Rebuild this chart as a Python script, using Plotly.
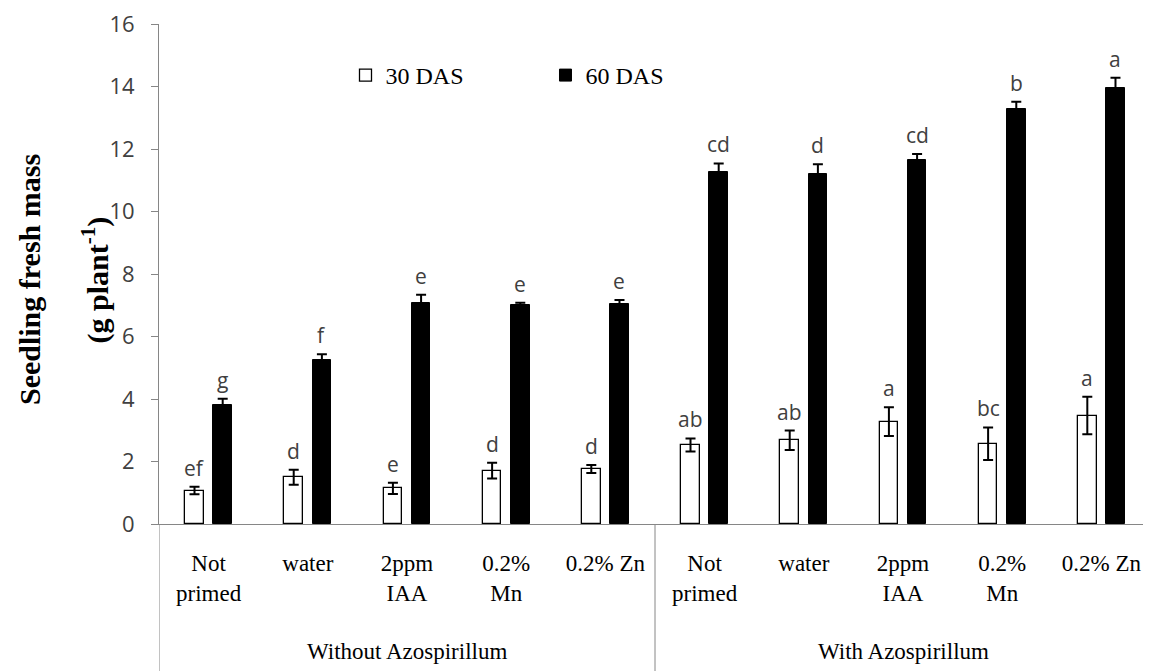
import plotly.graph_objects as go

categories = ["Not<br>primed", "water", "2ppm<br>IAA", "0.2%<br>Mn", "0.2% Zn",
              "Not<br>primed", "water", "2ppm<br>IAA", "0.2%<br>Mn", "0.2% Zn"]
groups = ["Without Azospirillum", "With Azospirillum"]

das30 = [1.07, 1.50, 1.14, 1.71, 1.76, 2.53, 2.68, 3.28, 2.57, 3.47]
das30_err = [0.12, 0.24, 0.18, 0.25, 0.13, 0.21, 0.31, 0.46, 0.52, 0.60]
das30_letters = ["ef", "d", "e", "d", "d", "ab", "ab", "a", "bc", "a"]

das60 = [3.81, 5.24, 7.06, 7.00, 7.03, 11.28, 11.20, 11.66, 13.27, 13.96]
das60_err = [0.20, 0.19, 0.28, 0.08, 0.14, 0.26, 0.31, 0.18, 0.24, 0.32]
das60_letters = ["g", "f", "e", "e", "e", "cd", "d", "cd", "b", "a"]

y_ticks = [0, 2, 4, 6, 8, 10, 12, 14, 16]

xs = list(range(len(categories)))
BW = 0.187
OFF = 0.142
AXIS_GRAY = "#868686"
SERIF = "Liberation Serif"
SANS = "Open Sans"

fig = go.Figure()
fig.add_trace(go.Bar(
    x=xs, y=das30, name="30 DAS", width=BW, offset=-OFF - BW / 2,
    marker=dict(color="white", line=dict(color="black", width=1.3)),
    error_y=dict(type="data", array=das30_err, visible=True, color="black",
                 thickness=2, width=5),
))
fig.add_trace(go.Bar(
    x=xs, y=das60, name="60 DAS", width=BW, offset=OFF - BW / 2,
    marker=dict(color="black", line=dict(color="black", width=1)),
    error_y=dict(type="data", array=das60_err, visible=True, color="black",
                 thickness=2, width=5),
))

annotations = []
for i in xs:
    annotations.append(dict(x=i - OFF, y=das30[i] + das30_err[i], xref="x", yref="y",
                            text=das30_letters[i], showarrow=False, yanchor="bottom",
                            yshift=3, font=dict(family=SANS, size=21, color="#404040")))
    annotations.append(dict(x=i + OFF, y=das60[i] + das60_err[i], xref="x", yref="y",
                            text=das60_letters[i], showarrow=False, yanchor="bottom",
                            yshift=3, font=dict(family=SANS, size=21, color="#404040")))

for gi, g in enumerate(groups):
    annotations.append(dict(x=2 + 5 * gi, y=-0.255, xref="x", yref="paper", text=g,
                            showarrow=False, yanchor="middle",
                            font=dict(family=SERIF, size=23, color="black")))

annotations.append(dict(x=-0.131, y=0.488, xref="paper", yref="paper",
                        text="<b>Seedling fresh mass</b>", textangle=-90, showarrow=False,
                        xanchor="center", yanchor="middle",
                        font=dict(family=SERIF, size=30, color="black")))
annotations.append(dict(x=-0.064, y=0.488, xref="paper", yref="paper",
                        text="<b>(g plant<sup>-1</sup>)</b>", textangle=-90, showarrow=False,
                        xanchor="center", yanchor="middle",
                        font=dict(family=SERIF, size=30, color="black")))

shapes = []
for xv in [-0.5, 4.5]:
    shapes.append(dict(type="line", xref="x", yref="paper", x0=xv, x1=xv, y0=0, y1=-0.32,
                       line=dict(color=AXIS_GRAY, width=1)))

fig.update_layout(
    width=1143, height=663,
    margin=dict(l=151, r=0, t=11, b=147),
    plot_bgcolor="white", paper_bgcolor="white",
    showlegend=True,
    legend=dict(orientation="h", x=0.188, y=0.897, xanchor="left", yanchor="middle",
                font=dict(family=SERIF, size=24, color="black"),
                entrywidth=155, entrywidthmode="pixels", bgcolor="rgba(0,0,0,0)"),
    annotations=annotations,
    shapes=shapes,
    bargap=0,
)
fig.update_xaxes(range=[-0.5, 9.5], tickvals=xs, ticktext=categories, showgrid=False,
                 showline=True, linecolor=AXIS_GRAY, linewidth=1, ticks="",
                 ticklabelstandoff=18, zeroline=False,
                 tickfont=dict(family=SERIF, size=23, color="black"))
fig.update_yaxes(range=[0, 16], tickvals=y_ticks, showgrid=False, zeroline=False,
                 showline=True, linecolor=AXIS_GRAY, linewidth=1, ticks="outside",
                 ticklen=7, tickcolor=AXIS_GRAY, ticklabelstandoff=12,
                 ticklabeloverflow="allow",
                 tickfont=dict(family=SANS, size=22, color="#404040"))

fig.write_html("out.html")
